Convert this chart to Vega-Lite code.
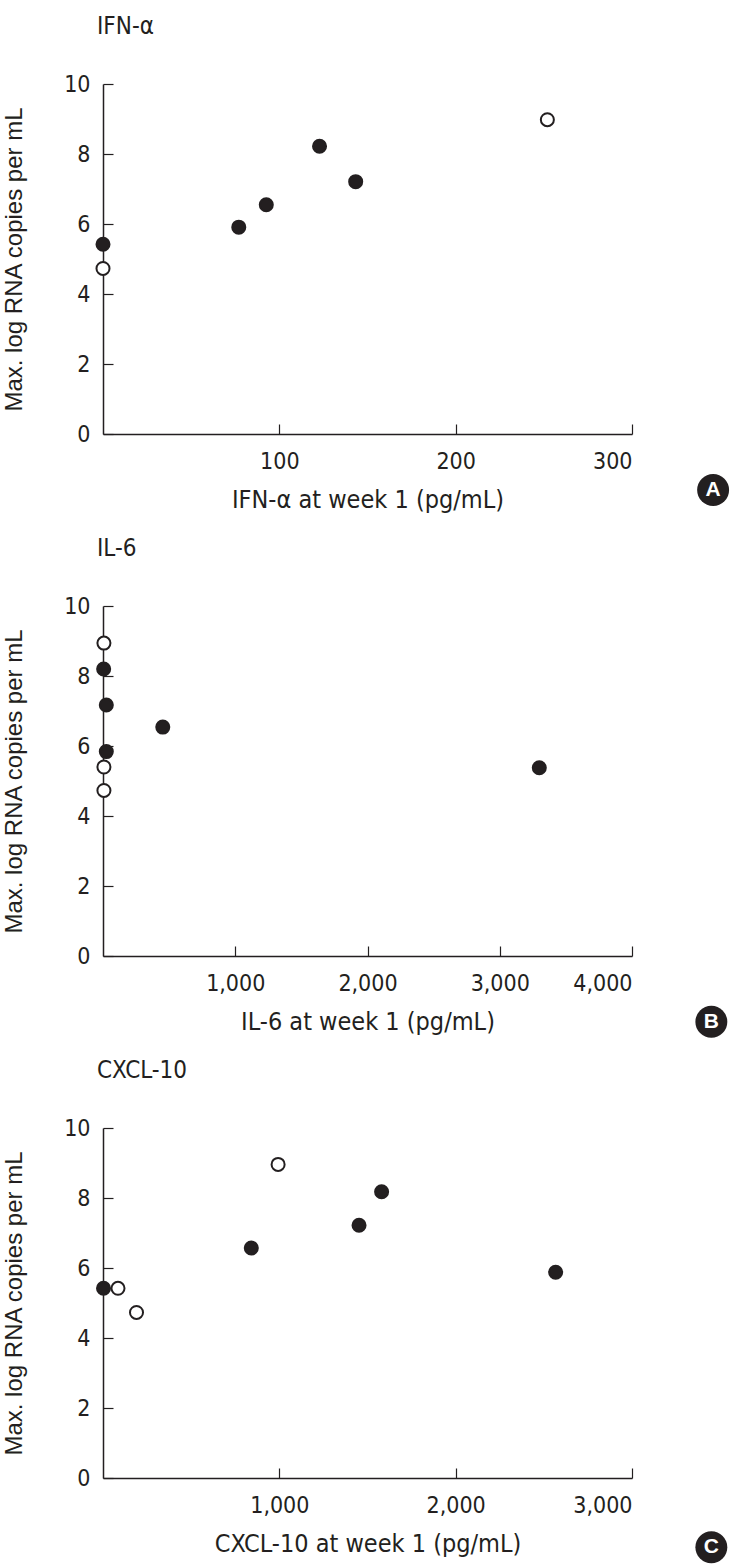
{
  "$schema": "https://vega.github.io/schema/vega-lite/v6.json",
  "background": "white",
  "padding": {"left": 2, "top": 15, "right": 5, "bottom": 5},
  "spacing": 172,
  "bounds": "flush",
  "config": {
    "view": {"stroke": null},
    "font": "'DejaVu Sans Condensed', 'Liberation Sans', sans-serif",
    "axis": {
      "grid": false,
      "domainColor": "#231f20",
      "domainWidth": 1.5,
      "tickColor": "#231f20",
      "tickWidth": 1.2,
      "tickSize": -10,
      "labelFont": "'DejaVu Sans Condensed', 'Liberation Sans', sans-serif",
      "labelFontSize": 23,
      "labelColor": "#231f20",
      "labelOverlap": false,
      "titleColor": "#231f20",
      "titleFontWeight": "normal"
    },
    "axisX": {"labelPadding": 26, "titleFont": "'DejaVu Sans Condensed', 'Liberation Sans', sans-serif", "titleFontSize": 25, "titlePadding": 14},
    "axisY": {"labelPadding": 23, "titleFont": "Liberation Sans", "titleFontSize": 24, "titlePadding": 37},
    "title": {"font": "'DejaVu Sans Condensed', 'Liberation Sans', sans-serif", "fontSize": 24, "fontWeight": "normal", "color": "#231f20", "anchor": "start", "frame": "group", "offset": 34, "dx": -6}
  },
  "datasets": {
    "ifn": [
      {"value": 0, "maxlog": 5.42, "group": "filled"},
      {"value": 0, "maxlog": 4.73, "group": "open"},
      {"value": 77, "maxlog": 5.91, "group": "filled"},
      {"value": 92.6, "maxlog": 6.55, "group": "filled"},
      {"value": 122.8, "maxlog": 8.22, "group": "filled"},
      {"value": 143.3, "maxlog": 7.21, "group": "filled"},
      {"value": 252, "maxlog": 8.98, "group": "open"}
    ],
    "il6": [
      {"value": 7, "maxlog": 8.94, "group": "open"},
      {"value": 5, "maxlog": 8.2, "group": "filled"},
      {"value": 25, "maxlog": 7.17, "group": "filled"},
      {"value": 7, "maxlog": 5.4, "group": "open"},
      {"value": 7, "maxlog": 4.73, "group": "open"},
      {"value": 25, "maxlog": 5.84, "group": "filled"},
      {"value": 452, "maxlog": 6.54, "group": "filled"},
      {"value": 3299, "maxlog": 5.38, "group": "filled"}
    ],
    "cxcl": [
      {"value": 85, "maxlog": 5.42, "group": "open"},
      {"value": 190, "maxlog": 4.73, "group": "open"},
      {"value": 993, "maxlog": 8.96, "group": "open"},
      {"value": 3, "maxlog": 5.42, "group": "filled"},
      {"value": 841, "maxlog": 6.57, "group": "filled"},
      {"value": 1452, "maxlog": 7.22, "group": "filled"},
      {"value": 1580, "maxlog": 8.18, "group": "filled"},
      {"value": 2567, "maxlog": 5.88, "group": "filled"}
    ],
    "labA": [{"panel": "A"}],
    "labB": [{"panel": "B"}],
    "labC": [{"panel": "C"}]
  },
  "vconcat": [
    {
      "width": 529,
      "height": 350,
      "title": {"text": "IFN-α"},
      "layer": [
        {
          "data": {"name": "ifn"},
          "mark": {"type": "point", "filled": true, "size": 170, "stroke": "#231f20", "strokeWidth": 2, "opacity": 1},
          "encoding": {
            "x": {"field": "value", "type": "quantitative", "scale": {"domain": [0, 300], "nice": false}, "axis": {"values": [100, 200, 300], "title": "IFN-α at week 1 (pg/mL)"}},
            "y": {"field": "maxlog", "type": "quantitative", "scale": {"domain": [0, 10], "nice": false}, "axis": {"values": [0, 2, 4, 6, 8, 10], "title": "Max. log RNA copies per mL"}},
            "fill": {"field": "group", "type": "nominal", "scale": {"domain": ["filled", "open"], "range": ["#231f20", "#ffffff"]}, "legend": null}
          }
        },
        {
          "data": {"name": "labA"},
          "mark": {"type": "point", "filled": true, "size": 1020, "color": "#231f20", "opacity": 1},
          "encoding": {"x": {"datum": 346}, "y": {"datum": -1.6}}
        },
        {
          "data": {"name": "labA"},
          "mark": {"type": "text", "color": "#ffffff", "font": "Liberation Sans", "fontWeight": "bold", "fontSize": 21, "align": "center", "baseline": "middle"},
          "encoding": {"x": {"datum": 346}, "y": {"datum": -1.6}, "text": {"field": "panel"}}
        }
      ]
    },
    {
      "width": 529,
      "height": 350,
      "title": {"text": "IL-6"},
      "layer": [
        {
          "data": {"name": "il6"},
          "mark": {"type": "point", "filled": true, "size": 170, "stroke": "#231f20", "strokeWidth": 2, "opacity": 1},
          "encoding": {
            "x": {"field": "value", "type": "quantitative", "scale": {"domain": [0, 4000], "nice": false}, "axis": {"values": [1000, 2000, 3000, 4000], "format": ",d", "title": "IL-6 at week 1 (pg/mL)"}},
            "y": {"field": "maxlog", "type": "quantitative", "scale": {"domain": [0, 10], "nice": false}, "axis": {"values": [0, 2, 4, 6, 8, 10], "title": "Max. log RNA copies per mL"}},
            "fill": {"field": "group", "type": "nominal", "scale": {"domain": ["filled", "open"], "range": ["#231f20", "#ffffff"]}, "legend": null}
          }
        },
        {
          "data": {"name": "labB"},
          "mark": {"type": "point", "filled": true, "size": 1020, "color": "#231f20", "opacity": 1},
          "encoding": {"x": {"datum": 4600}, "y": {"datum": -1.88}}
        },
        {
          "data": {"name": "labB"},
          "mark": {"type": "text", "color": "#ffffff", "font": "Liberation Sans", "fontWeight": "bold", "fontSize": 21, "align": "center", "baseline": "middle"},
          "encoding": {"x": {"datum": 4600}, "y": {"datum": -1.88}, "text": {"field": "panel"}}
        }
      ]
    },
    {
      "width": 529,
      "height": 350,
      "title": {"text": "CXCL-10"},
      "layer": [
        {
          "data": {"name": "cxcl"},
          "mark": {"type": "point", "filled": true, "size": 170, "stroke": "#231f20", "strokeWidth": 2, "opacity": 1},
          "encoding": {
            "x": {"field": "value", "type": "quantitative", "scale": {"domain": [0, 3000], "nice": false}, "axis": {"values": [1000, 2000, 3000], "format": ",d", "title": "CXCL-10 at week 1 (pg/mL)"}},
            "y": {"field": "maxlog", "type": "quantitative", "scale": {"domain": [0, 10], "nice": false}, "axis": {"values": [0, 2, 4, 6, 8, 10], "title": "Max. log RNA copies per mL"}},
            "fill": {"field": "group", "type": "nominal", "scale": {"domain": ["filled", "open"], "range": ["#231f20", "#ffffff"]}, "legend": null}
          }
        },
        {
          "data": {"name": "labC"},
          "mark": {"type": "point", "filled": true, "size": 1020, "color": "#231f20", "opacity": 1},
          "encoding": {"x": {"datum": 3450}, "y": {"datum": -1.98}}
        },
        {
          "data": {"name": "labC"},
          "mark": {"type": "text", "color": "#ffffff", "font": "Liberation Sans", "fontWeight": "bold", "fontSize": 21, "align": "center", "baseline": "middle"},
          "encoding": {"x": {"datum": 3450}, "y": {"datum": -1.98}, "text": {"field": "panel"}}
        }
      ]
    }
  ]
}
